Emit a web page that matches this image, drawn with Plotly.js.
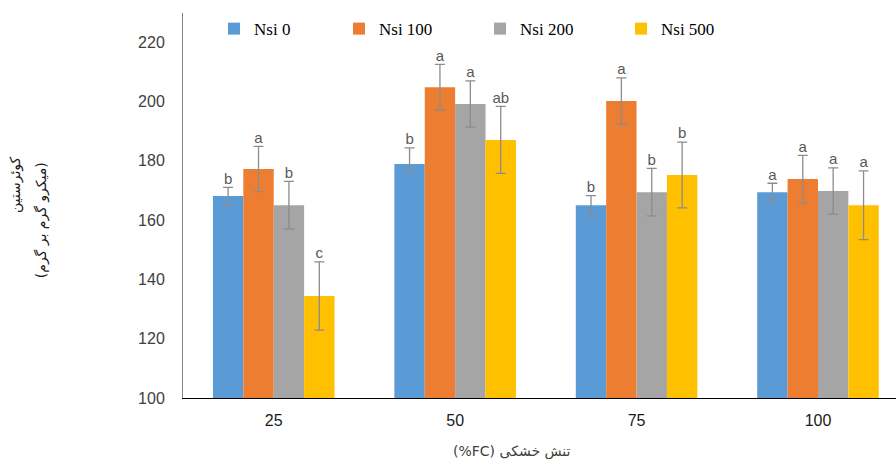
<!DOCTYPE html>
<html>
<head>
<meta charset="utf-8">
<script src="https://cdn.plot.ly/plotly-3.0.1.min.js"></script>
<style>html,body{margin:0;padding:0;background:#fff;}#chart{width:896px;height:459px;}</style>
</head>
<body>
<div id="chart"></div>
<script>
const categories = ['25', '50', '75', '100'];
const seriesNames = ['Nsi 0', 'Nsi 100', 'Nsi 200', 'Nsi 500'];
const nsi0 = [168.1, 178.9, 165.0, 169.4];
const nsi100 = [177.2, 204.8, 200.1, 173.8];
const nsi200 = [165.0, 199.1, 169.4, 169.8];
const nsi500 = [134.4, 187.0, 175.2, 165.0];
const nsi0ErrPlus = [2.9, 5.4, 3.2, 3.0];
const nsi0ErrMinus = [2.9, 2.7, 3.2, 3.0];
const nsi100Err = [7.6, 7.7, 7.8, 8.0];
const nsi200Err = [8.0, 7.8, 8.0, 7.8];
const nsi500Err = [11.5, 11.3, 11.1, 11.6];
const nsi0Letters = ['b', 'b', 'b', 'a'];
const nsi100Letters = ['a', 'a', 'a', 'a'];
const nsi200Letters = ['b', 'a', 'b', 'a'];
const nsi500Letters = ['c', 'ab', 'b', 'a'];
const xTitle = '(%FC) تنش خشکی';
const yTitleLine1 = 'کوئرستین';
const yTitleLine2 = '(میکرو گرم بر گرم)';

const colors = ['#5B9BD5', '#ED7D31', '#A5A5A5', '#FFC000'];
const values = [nsi0, nsi100, nsi200, nsi500];
const errPlus = [nsi0ErrPlus, nsi100Err, nsi200Err, nsi500Err];
const errMinus = [nsi0ErrMinus, nsi100Err, nsi200Err, nsi500Err];
const letters = [nsi0Letters, nsi100Letters, nsi200Letters, nsi500Letters];
const legendIds = ['legend', 'legend2', 'legend3', 'legend4'];
const legendX = [0.0435, 0.2188, 0.4166, 0.6143];

const traces = [];
values.forEach((v, i) => {
  traces.push({
    type: 'bar', name: seriesNames[i], x: categories, y: v, legend: legendIds[i],
    marker: {color: colors[i]},
    error_y: {type: 'data', symmetric: false, array: errPlus[i], arrayminus: errMinus[i],
              color: '#8C8C8C', thickness: 1.3, width: 5},
    hoverinfo: 'skip'
  });
});
values.forEach((v, i) => {
  traces.push({
    type: 'scatter', mode: 'text', x: categories,
    y: v.map((val, k) => val + errPlus[i][k]),
    text: letters[i], textposition: 'top center',
    textfont: {family: 'Liberation Sans, Arial, sans-serif', size: 15, color: '#595959'},
    showlegend: false, hoverinfo: 'skip', cliponaxis: false
  });
});

const layout = {
  width: 896, height: 459,
  margin: {l: 183, r: 0, t: 13, b: 61},
  paper_bgcolor: '#ffffff', plot_bgcolor: '#ffffff',
  barmode: 'group', bargap: 0.33, bargroupgap: 0,
  scattermode: 'group', scattergap: 0.33,
  showlegend: true,
  xaxis: {type: 'category', range: [-0.5, 3.43], showgrid: false, zeroline: false,
          showline: true, linecolor: '#000000', linewidth: 1, ticks: '',
          ticklabelstandoff: 8,
          tickfont: {family: 'Liberation Sans, Arial, sans-serif', size: 16, color: '#1a1a1a'}},
  yaxis: {range: [100, 229.8], dtick: 20, tick0: 100, showgrid: false, zeroline: false,
          showline: true, linecolor: '#868686', linewidth: 1, ticks: '',
          ticklabelstandoff: 14,
          tickfont: {family: 'Liberation Sans, Arial, sans-serif', size: 16, color: '#404040'}},
  annotations: [
    {text: xTitle, xref: 'paper', yref: 'paper', x: 0.461, y: -0.138, xanchor: 'center', yanchor: 'middle',
     showarrow: false, font: {family: 'DejaVu Sans, sans-serif', size: 14, color: '#404040'}},
    {text: yTitleLine1, xref: 'paper', yref: 'paper', x: -0.2356, y: 0.553, xanchor: 'center', yanchor: 'middle',
     textangle: -90, showarrow: false, font: {family: 'DejaVu Sans, sans-serif', size: 14, color: '#1a1a1a'}},
    {text: yTitleLine2, xref: 'paper', yref: 'paper', x: -0.199, y: 0.462, xanchor: 'center', yanchor: 'middle',
     textangle: -90, showarrow: false, font: {family: 'DejaVu Sans, sans-serif', size: 14, color: '#1a1a1a'}}
  ]
};
legendIds.forEach((id, i) => {
  layout[id] = {orientation: 'h', x: legendX[i], xanchor: 'left', y: 1.005, yanchor: 'top',
                font: {family: 'Liberation Serif, Times New Roman, serif', size: 17, color: '#000'},
                bgcolor: 'rgba(0,0,0,0)'};
});

Plotly.newPlot('chart', traces, layout, {displayModeBar: false, staticPlot: true});
</script>
</body>
</html>
